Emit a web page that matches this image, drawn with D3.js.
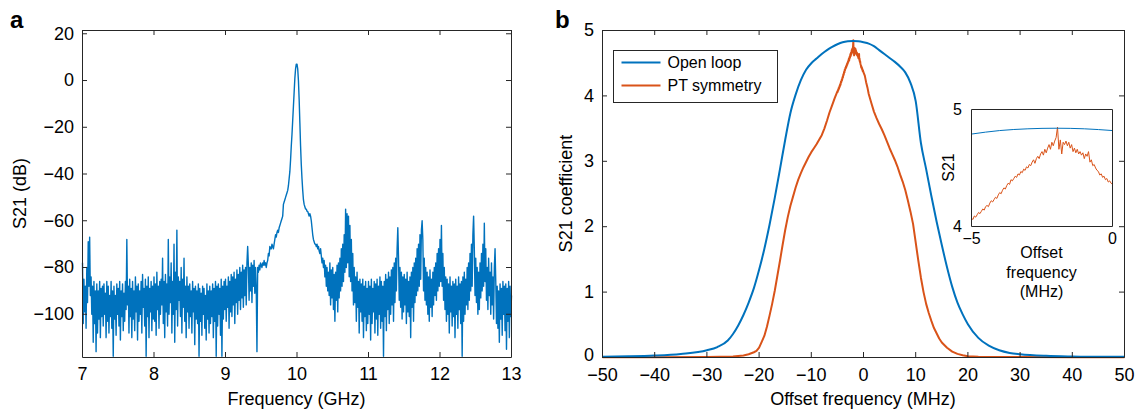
<!DOCTYPE html>
<html>
<head>
<meta charset="utf-8">
<script src="https://cdn.jsdelivr.net/npm/d3@7"></script>
<style>
body { margin: 0; background: #fff; }
</style>
</head>
<body>
<script>
// ---- panel a : spectrum, one value every 0.01 GHz from 7 to 13 ----
const specStart = 7, specStep = 0.01;
const specDb = [
    -78,-104,-85,-99,-88,-106,-80,-95,-69,-88,
    -67,-92,-84,-100,-88,-112,-86,-104,-90,-116,
    -87,-108,-90,-102,-86,-110,-89,-101,-88,-105,
    -87,-100,-91,-110,-86,-103,-88,-108,-92,-101,
    -86,-106,-90,-118,-88,-102,-92,-109,-87,-100,
    -89,-105,-86,-111,-90,-101,-87,-107,-91,-103,
    -86,-98,-68,-96,-88,-108,-85,-101,-89,-110,
    -86,-102,-90,-107,-84,-99,-88,-111,-87,-103,
    -90,-100,-86,-108,-83,-97,-89,-105,-85,-118,
    -88,-101,-84,-110,-89,-99,-86,-107,-88,-102,
    -84,-103,-87,-109,-82,-98,-88,-106,-86,-100,
    -85,-96,-76,-104,-86,-110,-83,-99,-87,-105,
    -68,-100,-84,-95,-78,-108,-86,-100,-70,-112,
    -82,-98,-64,-105,-84,-94,-86,-101,-80,-108,
    -85,-97,-76,-103,-88,-110,-84,-99,-88,-106,
    -87,-101,-90,-108,-86,-99,-89,-113,-88,-102,
    -90,-104,-87,-118,-89,-103,-91,-109,-88,-100,
    -89,-106,-92,-111,-87,-102,-90,-108,-88,-104,
    -90,-101,-87,-110,-89,-103,-86,-118,-88,-105,
    -87,-100,-89,-109,-85,-118,-88,-102,-86,-98,
    -85,-103,-88,-97,-84,-106,-86,-99,-83,-101,
    -84,-96,-82,-104,-85,-95,-81,-100,-83,-94,
    -80,-98,-82,-93,-79,-97,-81,-92,-80,-96,
    -78,-71,-79,-94,-80,-90,-78,-95,-79,-88,
    -77,-91,-80,-89,-116,-80,-82,-79,-81,-78,
    -79,-80,-78,-79,-77,-79,-78,-80,-78,-77,
    -74,-75,-71,-72,-72,-70,-71,-72,-70,-68,
    -66,-67,-65,-64,-65,-63,-62,-61,-60,-59,
    -58,-53,-52,-51,-50,-49,-48,-47,-45,-42,
    -39,-34,-28,-23,-17,-11,-5,1,5,7,
    7,5,0,-8,-18,-28,-36,-42,-47,-51,
    -53,-54,-55,-55,-56,-56,-57,-58,-57,-58,
    -60,-63,-66,-68,-69,-70,-70,-71,-70,-72,
    -71,-73,-74,-72,-75,-78,-76,-80,-77,-84,
    -79,-88,-80,-90,-82,-92,-78,-96,-81,-93,
    -80,-98,-83,-103,-82,-94,-79,-99,-78,-93,
    -76,-90,-72,-88,-70,-86,-66,-82,-55,-80,
    -57,-78,-58,-84,-62,-86,-68,-90,-74,-96,
    -80,-95,-84,-103,-82,-97,-86,-108,-85,-99,
    -87,-103,-85,-110,-88,-101,-86,-107,-89,-104,
    -86,-100,-88,-111,-85,-104,-89,-99,-86,-108,
    -87,-102,-85,-109,-88,-100,-84,-106,-86,-103,
    -88,-118,-86,-101,-83,-107,-85,-98,-82,-104,
    -84,-100,-81,-96,-80,-103,-78,-95,-76,-90,
    -72,-63,-76,-94,-80,-97,-82,-102,-84,-99,
    -83,-96,-85,-104,-82,-99,-86,-101,-84,-110,
    -82,-97,-80,-103,-78,-95,-76,-92,-72,-90,
    -70,-88,-66,-85,-64,-60,-68,-90,-76,-94,
    -80,-96,-82,-100,-84,-103,-81,-97,-85,-101,
    -82,-96,-80,-92,-78,-94,-74,-90,-72,-88,
    -68,-86,-62,-88,-74,-94,-80,-98,-84,-103,
    -85,-100,-87,-108,-84,-99,-88,-105,-86,-101,
    -87,-110,-85,-100,-88,-106,-84,-98,-87,-104,
    -86,-118,-84,-103,-82,-100,-85,-96,-80,-98,
    -78,-94,-74,-90,-70,-88,-66,-58,-72,-92,
    -76,-95,-80,-100,-82,-98,-78,-93,-74,-90,
    -70,-88,-61,-86,-72,-94,-80,-98,-76,-92,
    -82,-100,-78,-96,-84,-102,-80,-72,-86,-104,
    -88,-106,-90,-112,-87,-102,-89,-109,-86,-100,
    -88,-107,-87,-115,-89,-103,-86,-110,-88,-101,
    -92
];
const specTicksX = [7, 8, 9, 10, 11, 12, 13];
const specTicksY = [-100, -80, -60, -40, -20, 0, 20];

// ---- panel b : open loop ----
const openFreq = [-50,-45,-40,-35,-30,-28,-26,-25,-24,-23,-22,-21,-20,-19,-18,-17,-16,-15,-14,-13,-12,-11,
    -10,-9,-8,-7,-6,-5,-4,-3,-2,-1,0,1,2,3,4,5,6,7,8,9,10,11,12,13,14,15,16,17,18,19,20,22,24,26,28,30,35,40,45,50];
const openS21 = [0.012,0.018,0.03,0.055,0.11,0.16,0.26,0.36,0.49,0.65,0.84,1.06,1.34,1.66,2.03,2.44,2.88,3.33,3.74,4.02,4.24,4.40,
    4.50,4.57,4.64,4.70,4.75,4.79,4.82,4.835,4.84,4.835,4.82,4.80,4.76,4.70,4.64,4.58,4.52,4.45,4.36,4.20,3.92,3.28,2.88,2.47,2.08,1.72,1.38,1.08,0.84,0.66,0.51,0.30,0.18,0.11,0.07,0.05,0.025,0.015,0.01,0.01];

// ---- panel b : PT symmetry (coarse wings, fine sampling from -5 to 0 MHz) ----
const ptLeftFreq = [-50,-40,-30,-25,-23,-22,-21,-20.5,-20,-19.5,-19,-18.5,-18,-17.5,-17,-16.5,-16,-15.5,-15,-14.5,-14,
    -13.5,-13,-12.5,-12,-11.5,-11,-10.5,-10,-9.5,-9,-8.5,-8,-7.5,-7,-6.5,-6,-5.5];
const ptLeftS21 = [0.005,0.005,0.008,0.015,0.03,0.05,0.08,0.1,0.15,0.24,0.33,0.47,0.64,0.82,1.02,1.25,1.48,1.72,1.95,2.15,2.32,
    2.46,2.6,2.72,2.82,2.91,2.99,3.07,3.14,3.2,3.26,3.33,3.4,3.5,3.62,3.75,3.86,3.97];
const ptPeakStart = -5, ptPeakStep = 0.05;
const ptPeakS21 = [
    4.07,4.06,4.09,4.08,4.10,4.12,4.11,4.13,4.15,4.14,
    4.17,4.18,4.17,4.20,4.22,4.21,4.23,4.25,4.24,4.27,
    4.29,4.28,4.31,4.33,4.32,4.35,4.37,4.36,4.40,4.39,
    4.41,4.43,4.42,4.45,4.44,4.47,4.46,4.49,4.48,4.51,
    4.50,4.53,4.52,4.55,4.57,4.54,4.58,4.60,4.58,4.62,
    4.64,4.61,4.66,4.63,4.67,4.70,4.66,4.72,4.69,4.73,
    4.76,4.85,4.66,4.74,4.62,4.72,4.70,4.73,4.69,4.72,
    4.67,4.70,4.64,4.67,4.63,4.66,4.62,4.64,4.61,4.63,
    4.58,4.62,4.60,4.64,4.55,4.57,4.52,4.53,4.50,4.48,
    4.47,4.44,4.45,4.42,4.43,4.40,4.41,4.38,4.39,4.37,
    4.36
];
const ptRightFreq = [0.25,0.5,0.75,1,1.5,2,2.5,3,3.5,4,4.5,5,5.5,6,6.5,7,7.5,8,8.5,9,9.5,10,10.5,11,11.5,12,12.5,13,13.5,14,
    14.5,15,16,17,18,19,20,22,25,30,40,50];
const ptRightS21 = [4.31,4.21,4.13,4.03,3.89,3.76,3.66,3.57,3.49,3.40,3.30,3.20,3.11,3.02,2.92,2.80,2.69,2.56,2.40,2.23,2.04,1.76,1.48,1.22,1.00,0.82,0.68,0.56,0.45,0.37,
    0.29,0.23,0.15,0.09,0.055,0.035,0.02,0.01,0.008,0.006,0.005,0.005];

const offTicksX = [-50, -40, -30, -20, -10, 0, 10, 20, 30, 40, 50];
const s21TicksY = [0, 1, 2, 3, 4, 5];
const insetTicksX = [-5, 0];
const insetTicksY = [4, 5];
const seriesNames = ["Open loop", "PT symmetry"];
const seriesColors = ["#0072BD", "#D95319"];

// ---- build point lists ----
const specPts = specDb.map((v, i) => ({x: specStart + i * specStep, y: v}));
const openPts = openFreq.map((f, i) => ({x: f, y: openS21[i]}));
const ptPts = ptLeftFreq.map((f, i) => ({x: f, y: ptLeftS21[i]}))
    .concat(ptPeakS21.map((v, i) => ({x: ptPeakStart + i * ptPeakStep, y: v})))
    .concat(ptRightFreq.map((f, i) => ({x: f, y: ptRightS21[i]})));

const FONT = "'Liberation Sans', Arial, Helvetica, sans-serif";
const AXIS = "#262626";
const fmt = d3.format("d");

const svg = d3.select("body").append("svg")
    .attr("width", 1135)
    .attr("height", 414)
    .style("font-family", FONT);

svg.append("rect").attr("width", 1135).attr("height", 414).attr("fill", "#fff");

// boxed axes with inward ticks on every side
function drawFrame(g, x, y, w, h, xt, yt, opt) {
    const bottom = g.append("g").attr("transform", `translate(0,${h})`)
        .call(d3.axisBottom(x).tickValues(xt).tickFormat(fmt).tickSizeInner(-opt.tick).tickSizeOuter(0).tickPadding(opt.padX));
    const top = g.append("g")
        .call(d3.axisTop(x).tickValues(xt).tickSizeInner(-opt.tick).tickSizeOuter(0).tickFormat(""));
    const left = g.append("g")
        .call(d3.axisLeft(y).tickValues(yt).tickFormat(fmt).tickSizeInner(-opt.tick).tickSizeOuter(0).tickPadding(opt.padY));
    const right = g.append("g").attr("transform", `translate(${w},0)`)
        .call(d3.axisRight(y).tickValues(yt).tickSizeInner(-opt.tick).tickSizeOuter(0).tickFormat(""));
    [bottom, top, left, right].forEach(a => {
        a.attr("font-size", opt.font).attr("font-family", FONT);
        a.select(".domain").attr("stroke", AXIS);
        a.selectAll(".tick line").attr("stroke", AXIS);
        a.selectAll(".tick text").attr("fill", "#000");
    });
}

// ================= panel a =================
const pa = {x: 82, y: 30, w: 429, h: 327};
const gA = svg.append("g").attr("transform", `translate(${pa.x},${pa.y})`);

const xA = d3.scaleLinear().domain([7, 13]).range([0.5, pa.w + 0.5]);
const yA = d3.scaleLinear().domain([-118.5, 21.4]).range([pa.h + 0.5, 0.5]);

gA.append("path")
    .datum(specPts)
    .attr("fill", "none")
    .attr("stroke", "#0072BD")
    .attr("stroke-width", 1.4)
    .attr("stroke-linejoin", "round")
    .attr("d", d3.line().x(d => xA(d.x)).y(d => yA(d.y)));

drawFrame(gA, d3.scaleLinear().domain([7, 13]).range([0, pa.w]),
    d3.scaleLinear().domain([-118.5, 21.4]).range([pa.h, 0]),
    pa.w, pa.h, specTicksX, specTicksY, {tick: 5, padX: 10, padY: 8, font: 18});

gA.append("text")
    .attr("x", pa.w / 2)
    .attr("y", 375)
    .attr("text-anchor", "middle")
    .attr("font-size", 18)
    .text("Frequency (GHz)");

svg.append("text")
    .attr("transform", `translate(26,${pa.y + pa.h / 2}) rotate(-90)`)
    .attr("text-anchor", "middle")
    .attr("font-size", 18)
    .text("S21 (dB)");

svg.append("text")
    .attr("x", 10).attr("y", 28)
    .attr("font-size", 24).attr("font-weight", "bold")
    .text("a");

// ================= panel b =================
const pb = {x: 602, y: 30, w: 522, h: 327};
const gB = svg.append("g").attr("transform", `translate(${pb.x},${pb.y})`);

const xB = d3.scaleLinear().domain([-50, 50]).range([0.5, pb.w + 0.5]);
const yB = d3.scaleLinear().domain([0, 5]).range([pb.h + 0.5, 0.5]);

gB.append("path")
    .datum(ptPts)
    .attr("fill", "none")
    .attr("stroke", seriesColors[1])
    .attr("stroke-width", 2)
    .attr("stroke-linejoin", "round")
    .attr("d", d3.line().x(d => xB(d.x)).y(d => yB(d.y)));

gB.append("path")
    .datum(openPts)
    .attr("fill", "none")
    .attr("stroke", seriesColors[0])
    .attr("stroke-width", 2)
    .attr("d", d3.line().curve(d3.curveMonotoneX).x(d => xB(d.x)).y(d => yB(d.y)));

drawFrame(gB, d3.scaleLinear().domain([-50, 50]).range([0, pb.w]),
    d3.scaleLinear().domain([0, 5]).range([pb.h, 0]),
    pb.w, pb.h, offTicksX, s21TicksY, {tick: 5, padX: 11, padY: 8, font: 18});

// lift the "0" label a touch so it clears the "−50" below it
gB.selectAll(".tick text").filter(function (d) { return d === 0 && this.getAttribute("x") < 0; })
    .attr("dy", "0.2em");

gB.append("text")
    .attr("x", pb.w / 2)
    .attr("y", 375)
    .attr("text-anchor", "middle")
    .attr("font-size", 18)
    .text("Offset frequency (MHz)");

svg.append("text")
    .attr("transform", `translate(572,${pb.y + pb.h / 2}) rotate(-90)`)
    .attr("text-anchor", "middle")
    .attr("font-size", 18)
    .text("S21 coefficient");

svg.append("text")
    .attr("x", 555).attr("y", 28)
    .attr("font-size", 24).attr("font-weight", "bold")
    .text("b");

// legend
const legend = svg.append("g").attr("transform", "translate(613.5,50.5)");
legend.append("rect")
    .attr("width", 164).attr("height", 52)
    .attr("fill", "#fff").attr("stroke", AXIS).attr("stroke-width", 1);
seriesNames.forEach((name, i) => {
    const yy = 12 + i * 23;
    legend.append("line")
        .attr("x1", 8).attr("x2", 47).attr("y1", yy).attr("y2", yy)
        .attr("stroke", seriesColors[i]).attr("stroke-width", 2);
    legend.append("text")
        .attr("x", 54).attr("y", yy).attr("dy", "0.35em")
        .attr("font-size", 16)
        .text(name);
});

// ================= inset =================
const pi = {x: 971, y: 109, w: 141, h: 117};
const gI = svg.append("g").attr("transform", `translate(${pi.x},${pi.y})`);
gI.append("rect").attr("width", pi.w).attr("height", pi.h).attr("fill", "#fff");

const xI = d3.scaleLinear().domain([-5, 0]).range([0.5, pi.w + 0.5]);
const yI = d3.scaleLinear().domain([4, 5]).range([pi.h + 0.5, 0.5]);

gI.append("clipPath").attr("id", "insetClip")
    .append("rect").attr("x", 0.5).attr("y", 0.5).attr("width", pi.w).attr("height", pi.h);

const inWin = d => d.x >= -5.6 && d.x <= 0.6;
gI.append("path")
    .datum(ptPts.filter(inWin))
    .attr("clip-path", "url(#insetClip)")
    .attr("fill", "none")
    .attr("stroke", seriesColors[1])
    .attr("stroke-width", 1)
    .attr("d", d3.line().x(d => xI(d.x)).y(d => yI(d.y)));

gI.append("path")
    .datum(openPts.filter(d => d.x >= -7 && d.x <= 2))
    .attr("clip-path", "url(#insetClip)")
    .attr("fill", "none")
    .attr("stroke", seriesColors[0])
    .attr("stroke-width", 1)
    .attr("d", d3.line().curve(d3.curveMonotoneX).x(d => xI(d.x)).y(d => yI(d.y)));

drawFrame(gI, d3.scaleLinear().domain([-5, 0]).range([0, pi.w]),
    d3.scaleLinear().domain([4, 5]).range([pi.h, 0]),
    pi.w, pi.h, insetTicksX, insetTicksY, {tick: 0, padX: 7, padY: 9, font: 16});

gI.append("text")
    .attr("transform", `translate(-17,${pi.h / 2}) rotate(-90)`)
    .attr("text-anchor", "middle")
    .attr("font-size", 16)
    .text("S21");

["Offset", "frequency", "(MHz)"].forEach((line, i) => {
    gI.append("text")
        .attr("x", pi.w / 2)
        .attr("y", 149 + i * 19.5)
        .attr("text-anchor", "middle")
        .attr("font-size", 16)
        .text(line);
});
</script>
</body>
</html>
